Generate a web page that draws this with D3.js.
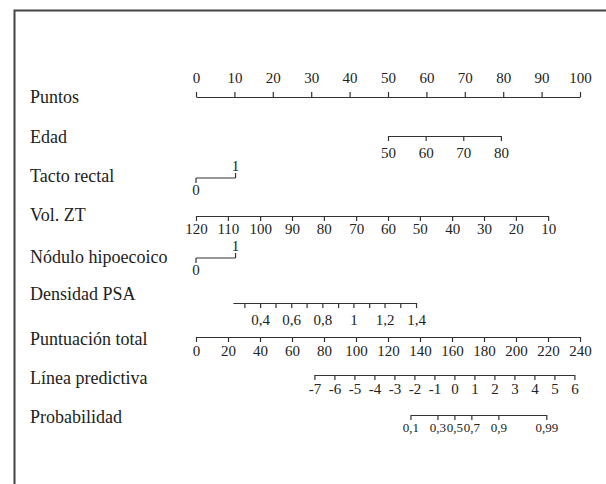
<!DOCTYPE html>
<html>
<head>
    <meta charset='utf-8'>
    <title>Nomograma</title>
    <script src="https://d3js.org/d3.v7.min.js"></script>
    <style>
        body { margin: 0; background: #fff; }
        .axis path, .axis line { stroke: #333; stroke-width: 1.2px; }
    </style>
</head>
<body>
    <div id='chart'></div>
    <script>
        // row names
        const rowLabels = ["Puntos", "Edad", "Tacto rectal", "Vol. ZT", "Nódulo hipoecoico",
                           "Densidad PSA", "Puntuación total", "Línea predictiva", "Probabilidad"];

        // points scale
        const puntosTicks = [0, 10, 20, 30, 40, 50, 60, 70, 80, 90, 100];

        // each predictor: tick values and the points they are worth
        const edadTicks = [50, 60, 70, 80];
        const edadPoints = [50, 59.8, 69.6, 79.4];

        const tactoTicks = [0, 1];
        const tactoPoints = [0, 10.3];

        const volTicks = [120, 110, 100, 90, 80, 70, 60, 50, 40, 30, 20, 10];
        const volPoints = [0, 8.3, 16.7, 25, 33.3, 41.7, 50, 58.3, 66.7, 75, 83.3, 91.7];

        const noduloTicks = [0, 1];
        const noduloPoints = [0, 10.3];

        const psaStart = 0.23;
        const psaStartPoints = 9.6;
        const psaTicks = [0.3, 0.4, 0.5, 0.6, 0.7, 0.8, 0.9, 1, 1.1, 1.2, 1.3, 1.4];
        const psaPoints = [12.6, 16.7, 20.7, 24.8, 28.8, 32.9, 37.0, 41.0, 45.1, 49.1, 53.2, 57.3];
        const psaLabels = [0.4, 0.6, 0.8, 1, 1.2, 1.4];

        // total points and linear predictor
        const totalTicks = [0, 20, 40, 60, 80, 100, 120, 140, 160, 180, 200, 220, 240];
        const lpTicks = [-7, -6, -5, -4, -3, -2, -1, 0, 1, 2, 3, 4, 5, 6];
        const lpEnds = [-7, 6];
        const lpTotalEnds = [74, 236.5];
        const probTicks = [0.1, 0.3, 0.5, 0.7, 0.9, 0.99];

        // layout
        let size = {width: 606, height: 484};
        const rowLineY = [97, 136, 178, 216, 258, 303, 337, 375, 415];
        const rowTextY = [103, 143, 182, 221, 263, 300, 345, 384, 423];
        const labelX = 30;
        const x0 = 196, x1 = 580;
        const serif = '"Liberation Serif"';

        const es = d3.formatLocale({decimal: ",", thousands: ".", grouping: [3], currency: ["", "€"]});
        const fmt = d => es.format("~g")(d).replace("−", "-");

        let svg = d3.select("#chart")
                    .append("svg")
                        .attr("width", size.width)
                        .attr("height", size.height);

        // frame
        svg.append("rect")
            .attr("x", 14.5).attr("y", 10.5)
            .attr("width", 700).attr("height", 600)
            .attr("fill", "none")
            .attr("stroke", "#444")
            .attr("stroke-width", 2);

        // row labels
        svg.selectAll(".rowlabel")
            .data(rowLabels)
            .enter()
            .append("text")
                .attr("class", "rowlabel")
                .attr("x", labelX)
                .attr("y", (d, i) => rowTextY[i])
                .style("font-family", serif)
                .style("font-size", "18px")
                .style("fill", "#222")
                .text(d => d);

        let x = d3.scaleLinear().domain([0, 100]).range([x0, x1]);
        let xTotal = d3.scaleLinear().domain([0, 240]).range([x0, x1]);

        let styleAxis = (g, fs) => {
            g.attr("class", "axis");
            g.selectAll("text").style("font-size", fs).style("font-family", serif).style("fill", "#222");
        }

        let drawAxis = (axis, row, fs) => {
            svg.append("g")
                .attr("transform", `translate(0,${rowLineY[row]})`)
                .call(axis)
                .call(g => styleAxis(g, fs || "15px"));
        }

        // Puntos
        drawAxis(d3.axisTop(x).tickValues(puntosTicks).tickSize(5).tickSizeOuter(0).tickPadding(9).tickFormat(fmt), 0);

        // Edad
        let edadScale = d3.scaleLinear().domain(edadTicks).range(edadPoints.map(x));
        drawAxis(d3.axisBottom(edadScale).tickValues(edadTicks).tickSize(5).tickSizeOuter(0).tickPadding(6).tickFormat(fmt), 1);

        // binary predictors: 0 below, 1 above
        let drawBinary = (ticks, points, row) => {
            let g = svg.append("g").attr("class", "axis").attr("transform", `translate(0,${rowLineY[row]})`);
            g.append("path").attr("d", `M${x(points[0])},0H${x(points[1])}`).attr("fill", "none");
            ticks.forEach((t, i) => {
                let up = i === 1;
                g.append("line")
                    .attr("x1", x(points[i])).attr("x2", x(points[i]))
                    .attr("y1", 0).attr("y2", up ? -5 : 5);
                g.append("text")
                    .attr("x", x(points[i]))
                    .attr("y", up ? -7 : 17)
                    .attr("text-anchor", "middle")
                    .style("font-family", serif)
                    .style("font-size", "15px")
                    .style("fill", "#222")
                    .text(fmt(t));
            });
        }
        drawBinary(tactoTicks, tactoPoints, 2);

        // Vol. ZT
        let volScale = d3.scaleLinear().domain(volTicks).range(volPoints.map(x));
        drawAxis(d3.axisBottom(volScale).tickValues(volTicks).tickSize(5).tickSizeOuter(0).tickPadding(2).tickFormat(fmt), 3);

        drawBinary(noduloTicks, noduloPoints, 4);

        // Densidad PSA
        let psaScale = d3.scaleLinear()
                        .domain([psaStart].concat(psaTicks))
                        .range([psaStartPoints].concat(psaPoints).map(x));
        drawAxis(d3.axisBottom(psaScale).tickValues(psaTicks).tickSize(5).tickSizeOuter(0).tickPadding(6)
                    .tickFormat(d => psaLabels.some(v => Math.abs(v - d) < 1e-9) ? fmt(d) : ""), 5);

        // Puntuación total
        drawAxis(d3.axisBottom(xTotal).tickValues(totalTicks).tickSize(5).tickSizeOuter(0).tickPadding(3).tickFormat(fmt), 6);

        // Línea predictiva
        let lpScale = d3.scaleLinear().domain(lpEnds).range(lpTotalEnds.map(xTotal));
        drawAxis(d3.axisBottom(lpScale).tickValues(lpTicks).tickSize(5).tickSizeOuter(0).tickPadding(3).tickFormat(fmt), 7);

        // Probabilidad
        let logit = p => Math.log(p / (1 - p));
        let probScale = d3.scaleLinear().domain(probTicks).range(probTicks.map(p => lpScale(logit(p))));
        drawAxis(d3.axisBottom(probScale).tickValues(probTicks).tickSize(5).tickSizeOuter(0).tickPadding(3).tickFormat(fmt), 8, "13px");
    </script>
</body>
</html>
